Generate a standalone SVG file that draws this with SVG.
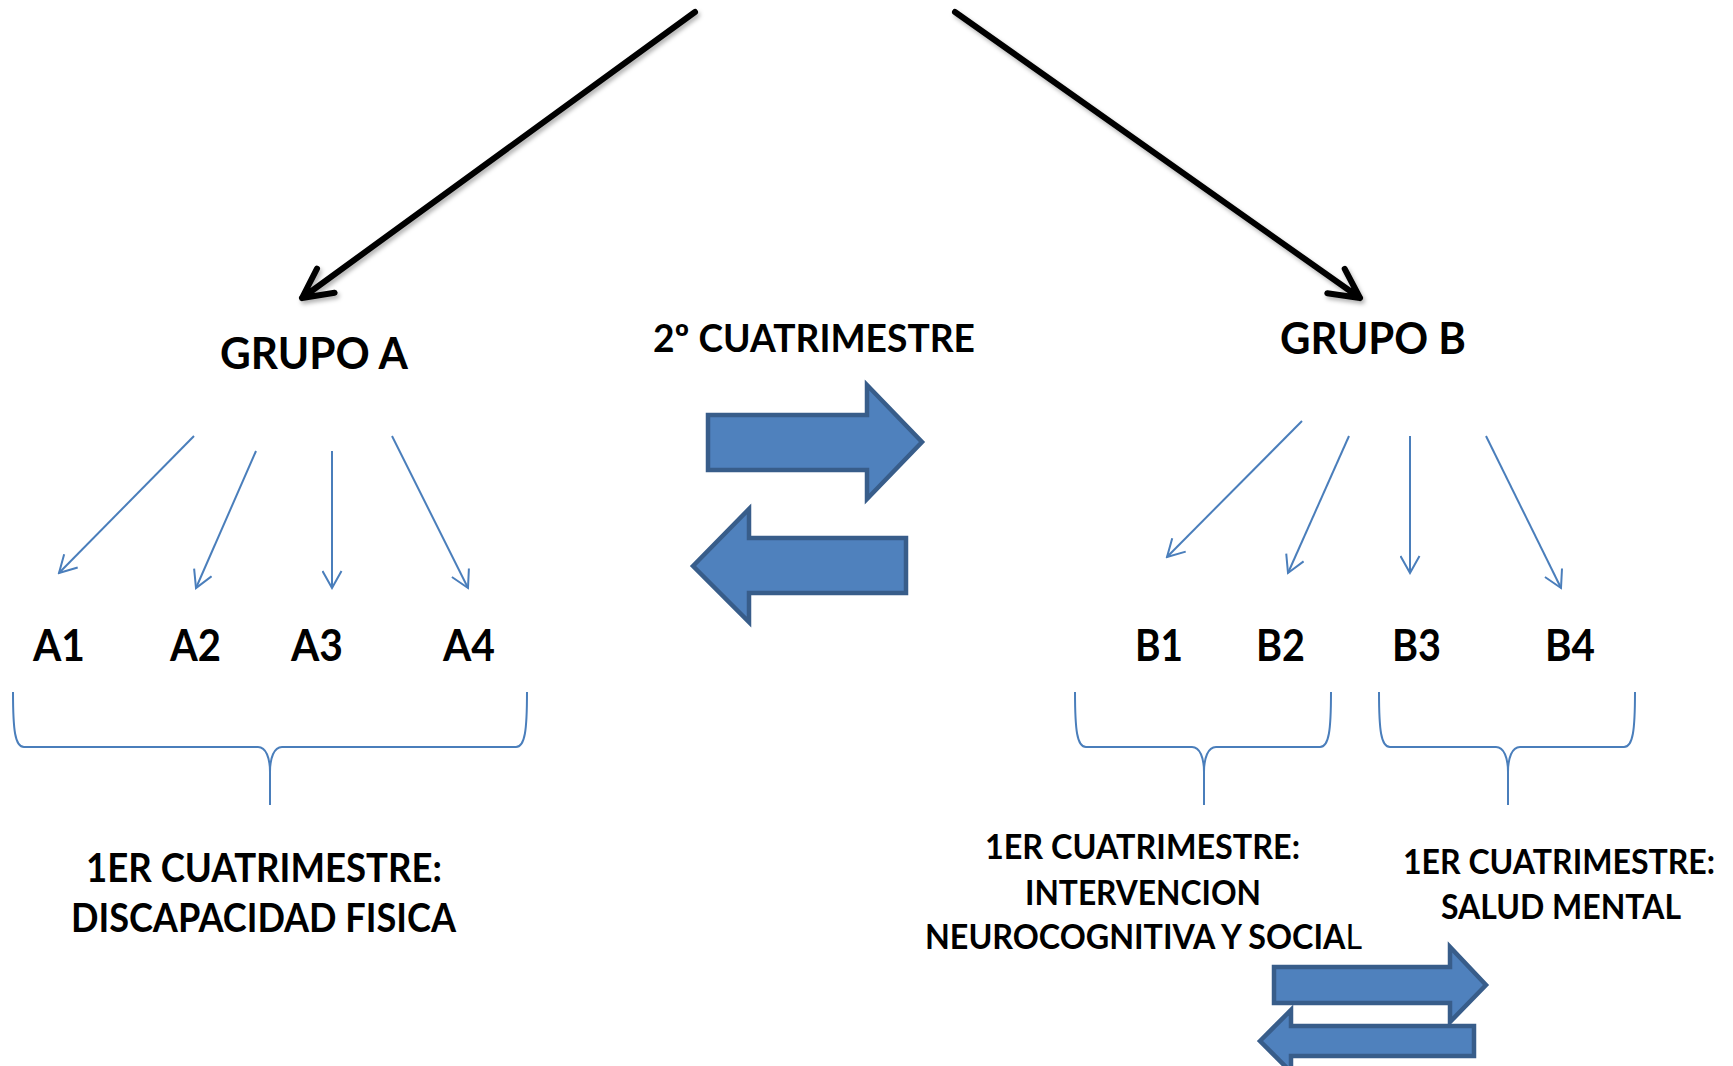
<svg xmlns="http://www.w3.org/2000/svg" width="1733" height="1066" viewBox="0 0 1733 1066">
  <style>
    .t { font-family: Lato, "Open Sans", "Liberation Sans", sans-serif; font-weight: bold; fill: #000; }
    .big { font-size: 43px; }
    .mid { font-size: 39px; }
    .sa { font-size: 40px; }
    .sb { font-size: 35px; }
    .black { fill: none; stroke: #000; stroke-width: 6; stroke-linecap: round; stroke-linejoin: round; }
    .thin { fill: none; stroke: #4A7EBB; stroke-width: 2; marker-end: url(#openHead); }
    .brace { fill: none; stroke: #4A7EBB; stroke-width: 2; }
    .block { fill: #4F81BD; stroke: #385D8A; stroke-width: 4.5; stroke-linejoin: miter; }
  </style>
  <defs>
    <marker id="openHead" viewBox="0 0 20 21" refX="18" refY="10.5" markerWidth="20" markerHeight="21" markerUnits="userSpaceOnUse" orient="auto">
      <path d="M1,1 L18,10.5 L1,20" fill="none" stroke="#4A7EBB" stroke-width="2"/>
    </marker>
    <filter id="shadow" x="-10%" y="-10%" width="120%" height="120%">
      <feDropShadow dx="2" dy="3" stdDeviation="2" flood-color="#000" flood-opacity="0.3"/>
    </filter>
  </defs>
  <rect width="1733" height="1066" fill="#fff"/>

  <g id="connectors">
    <g filter="url(#shadow)">
      <path class="black" d="M695,12 L302,298 M334.6,292.8 L302,298 L317,268.6"/>
      <path class="black" d="M955,12 L1360,298 M1344.7,268.8 L1360,298 L1327.3,293.2"/>
    </g>
    <line class="thin" x1="194" y1="436" x2="59" y2="573"/>
    <line class="thin" x1="256" y1="451" x2="196" y2="588"/>
    <line class="thin" x1="332" y1="451" x2="332" y2="588"/>
    <line class="thin" x1="392" y1="436" x2="468" y2="588"/>
    <line class="thin" x1="1302" y1="421" x2="1167" y2="557"/>
    <line class="thin" x1="1349" y1="436" x2="1288" y2="573"/>
    <line class="thin" x1="1410" y1="436" x2="1410" y2="573"/>
    <line class="thin" x1="1486" y1="436" x2="1561" y2="588"/>
    <path class="brace" d="M13,692 C13,730 15,747 24,747 L258,747 C266,747 270,758 270,772 L270,805 M270,772 C270,758 274,747 282,747 L516,747 C525,747 527,730 527,692"/>
    <path class="brace" d="M1075,692 C1075,730 1077,747 1086,747 L1192,747 C1200,747 1204,758 1204,772 L1204,805 M1204,772 C1204,758 1208,747 1216,747 L1320,747 C1329,747 1331,730 1331,692"/>
    <path class="brace" d="M1379,692 C1379,730 1381,747 1390,747 L1496,747 C1504,747 1508,758 1508,772 L1508,805 M1508,772 C1508,758 1512,747 1520,747 L1624,747 C1633,747 1635,730 1635,692"/>
  </g>

  <g id="swap-center">
    <polygon class="block" points="708,415 867,415 867,385 922,442 867,499 867,470 708,470"/>
    <polygon class="block" points="693,566 749,509 749,538 906,538 906,593 749,593 749,622"/>
  </g>
  <g id="swap-bottom">
    <polygon class="block" points="1274,967 1450,967 1450,947 1486,985 1450,1022 1450,1003 1274,1003"/>
    <polygon class="block" points="1260,1041 1291,1010 1291,1026 1474,1026 1474,1056 1291,1056 1291,1072"/>
  </g>

  <g id="grupo-a"><text class="t big" x="220" y="369" textLength="188" lengthAdjust="spacingAndGlyphs">GRUPO A</text></g>
  <g id="cuatrimestre-2"><text class="t mid" x="653" y="352" textLength="322" lengthAdjust="spacingAndGlyphs">2º CUATRIMESTRE</text></g>
  <g id="grupo-b"><text class="t big" x="1280" y="354" textLength="186" lengthAdjust="spacingAndGlyphs">GRUPO B</text></g>

  <g id="a1"><text class="t big" x="33" y="661" textLength="52" lengthAdjust="spacingAndGlyphs">A1</text></g>
  <g id="a2"><text class="t big" x="170" y="661" textLength="51" lengthAdjust="spacingAndGlyphs">A2</text></g>
  <g id="a3"><text class="t big" x="291" y="661" textLength="52" lengthAdjust="spacingAndGlyphs">A3</text></g>
  <g id="a4"><text class="t big" x="443" y="661" textLength="52" lengthAdjust="spacingAndGlyphs">A4</text></g>
  <g id="b1"><text class="t big" x="1135" y="661" textLength="48" lengthAdjust="spacingAndGlyphs">B1</text></g>
  <g id="b2"><text class="t big" x="1256" y="661" textLength="49" lengthAdjust="spacingAndGlyphs">B2</text></g>
  <g id="b3"><text class="t big" x="1392" y="661" textLength="49" lengthAdjust="spacingAndGlyphs">B3</text></g>
  <g id="b4"><text class="t big" x="1545" y="661" textLength="50" lengthAdjust="spacingAndGlyphs">B4</text></g>

  <g id="discapacidad">
    <text class="t sa" x="86" y="882" textLength="356" lengthAdjust="spacingAndGlyphs">1ER CUATRIMESTRE:</text>
    <text class="t sa" x="71" y="932" textLength="385" lengthAdjust="spacingAndGlyphs">DISCAPACIDAD FISICA</text>
  </g>
  <g id="neurocognitiva">
    <text class="t sb" x="985" y="859" textLength="315" lengthAdjust="spacingAndGlyphs">1ER CUATRIMESTRE:</text>
    <text class="t sb" x="1025" y="905" textLength="236" lengthAdjust="spacingAndGlyphs">INTERVENCION</text>
    <text class="t sb" x="925" y="949" textLength="437" lengthAdjust="spacingAndGlyphs">NEUROCOGNITIVA Y SOCIA<tspan font-weight="normal">L</tspan></text>
  </g>
  <g id="salud-mental">
    <text class="t sb" x="1403" y="874" textLength="312" lengthAdjust="spacingAndGlyphs">1ER CUATRIMESTRE:</text>
    <text class="t sb" x="1441" y="919" textLength="240" lengthAdjust="spacingAndGlyphs">SALUD MENTAL</text>
  </g>
</svg>
